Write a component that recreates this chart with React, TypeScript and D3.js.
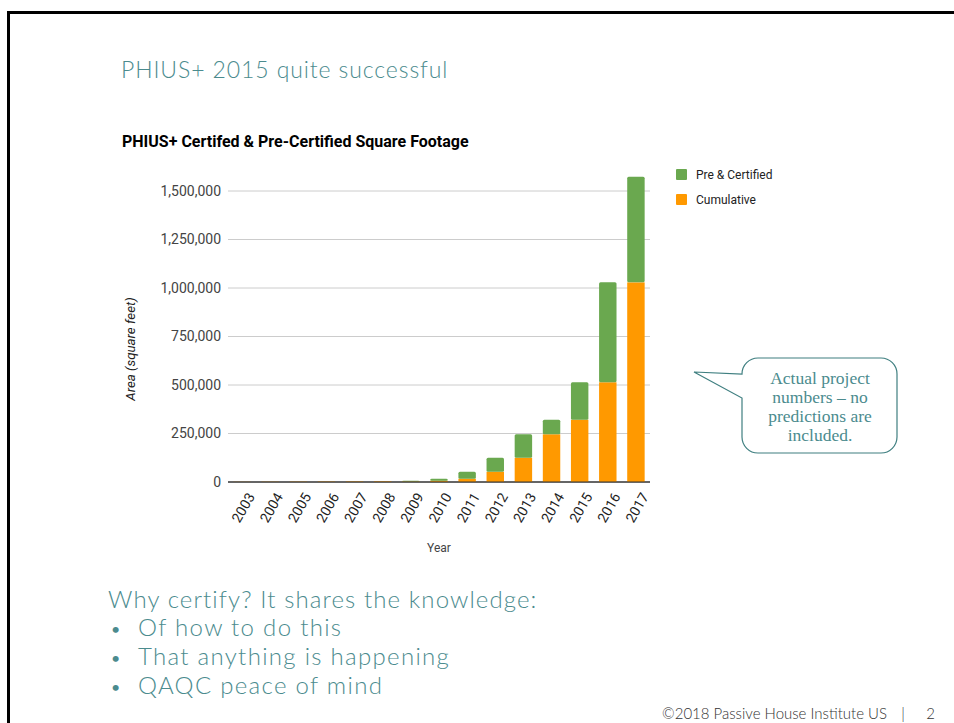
import React from 'react'
import * as d3 from 'd3'

// values (square feet)
const years = ['2003', '2004', '2005', '2006', '2007', '2008', '2009', '2010', '2011', '2012', '2013', '2014', '2015', '2016', '2017']
const cumulative = [1000, 1500, 2000, 2500, 3000, 3500, 3000, 7000, 17000, 53000, 125000, 246000, 321000, 514000, 1029000]
const preCertified = [0, 0, 0, 0, 0, 0, 4000, 10000, 36000, 72000, 121000, 75000, 193000, 515000, 545000]
const yTicks = [0, 250000, 500000, 750000, 1000000, 1250000, 1500000]
const seriesNames = ['Cumulative', 'Pre & Certified']
const legendOrder = ['Pre & Certified', 'Cumulative']
const bullets = ['Of how to do this', 'That anything is happening', 'QAQC peace of mind']
const calloutLines = ['Actual project', 'numbers \u2013 no', 'predictions are', 'included.']

const teal = '#4b8b8e'
const colors: Record<string, string> = { 'Cumulative': '#ff9900', 'Pre & Certified': '#6aa84f' }

export default function App() {
    const width = 954
    const height = 723
    const plot = { left: 228, right: 650, top: 191, bottom: 482 }

    const x = d3.scaleBand().domain(years).range([plot.left, plot.right]).paddingInner(0.38).paddingOuter(0.19)
    const y = d3.scaleLinear().domain([0, 1500000]).range([plot.bottom, plot.top])
    const fmt = d3.format(',')

    const rows = years.map((yr, i) => ({ year: yr, 'Cumulative': cumulative[i], 'Pre & Certified': preCertified[i] }))
    const stacked = d3.stack<any>().keys(seriesNames)(rows)

    // callout bubble
    const cb = { x0: 742, x1: 897, y0: 358, y1: 453, r: 16 }
    const tip = [694, 372]
    const bubble = d3.path()
    bubble.moveTo(cb.x0 + cb.r, cb.y0)
    bubble.lineTo(cb.x1 - cb.r, cb.y0)
    bubble.arcTo(cb.x1, cb.y0, cb.x1, cb.y0 + cb.r, cb.r)
    bubble.lineTo(cb.x1, cb.y1 - cb.r)
    bubble.arcTo(cb.x1, cb.y1, cb.x1 - cb.r, cb.y1, cb.r)
    bubble.lineTo(cb.x0 + cb.r, cb.y1)
    bubble.arcTo(cb.x0, cb.y1, cb.x0, cb.y1 - cb.r, cb.r)
    bubble.lineTo(cb.x0, 398)
    bubble.lineTo(tip[0], tip[1])
    bubble.lineTo(cb.x0, 374)
    bubble.lineTo(cb.x0, cb.y0 + cb.r)
    bubble.arcTo(cb.x0, cb.y0, cb.x0 + cb.r, cb.y0, cb.r)
    bubble.closePath()

    return (
        <div style={{ position: 'fixed', left: 0, top: 0 }}>
            <svg width={width} height={height} style={{ display: 'block', background: '#fff' }}>
                {/* slide frame */}
                <path d="M8.5,723 V12.5 H954" fill="none" stroke="#000" strokeWidth={3} />

                <text x={121} y={78} fill={teal} fontFamily="Lato" fontWeight={300} fontSize={23} letterSpacing={0.9}>
                    PHIUS+ 2015 quite successful
                </text>

                <text x={122} y={147} fontFamily="Roboto" fontWeight="bold" fontSize={16} fill="#000">
                    PHIUS+ Certifed &amp; Pre-Certified Square Footage
                </text>

                {/* grid + y labels */}
                {yTicks.map(t => (
                    <g key={t}>
                        <line x1={plot.left} x2={plot.right} y1={y(t)} y2={y(t)}
                            stroke={t === 0 ? '#333' : '#ccc'} strokeWidth={1} />
                        <text x={221} y={y(t)} dy="0.35em" textAnchor="end" fontFamily="Roboto" fontSize={14} fill="#444">
                            {fmt(t)}
                        </text>
                    </g>
                ))}

                {/* bars */}
                {stacked.map(s => (
                    <g key={s.key} fill={colors[s.key]}>
                        {s.map((d: any) => (
                            <rect key={d.data.year} x={x(d.data.year)} width={x.bandwidth()}
                                y={y(d[1])} height={Math.max(0, y(d[0]) - y(d[1]))}
                                rx={s.key === 'Pre & Certified' ? 1.5 : 0} />
                        ))}
                    </g>
                ))}
                <line x1={plot.left} x2={plot.right} y1={y(0)} y2={y(0)} stroke="#333" strokeWidth={1} />

                {/* x labels */}
                {years.map(yr => {
                    const cx = (x(yr) as number) + x.bandwidth() / 2
                    return (
                        <text key={yr} transform={`translate(${cx + 9},${494}) rotate(-60)`} textAnchor="end" dy="0.35em"
                            fontFamily="Roboto" fontSize={14} fill="#222">
                            {yr}
                        </text>
                    )
                })}
                <text x={(plot.left + plot.right) / 2} y={552} textAnchor="middle" fontFamily="Roboto" fontSize={12} fill="#444">
                    Year
                </text>
                <text transform={`translate(135,349) rotate(-90)`} textAnchor="middle" fontFamily="Roboto" fontStyle="italic"
                    fontSize={13.3} fill="#222">
                    Area (square feet)
                </text>

                {/* legend */}
                {legendOrder.map((k, i) => (
                    <g key={k} transform={`translate(676,${169 + i * 25})`}>
                        <rect width={11} height={11} rx={1} fill={colors[k]} />
                        <text x={20} y={5.5} dy="0.35em" fontFamily="Roboto" fontSize={12} fill="#222">{k}</text>
                    </g>
                ))}

                {/* callout */}
                <path d={bubble.toString()} fill="#fff" stroke="#3f7f80" strokeWidth={1.2} />
                {calloutLines.map((l, i) => (
                    <text key={l} x={820} y={384 + i * 19} textAnchor="middle" fontFamily="Liberation Serif"
                        fontSize={17.5} fill={teal}>
                        {l}
                    </text>
                ))}

                {/* bullet text */}
                <text x={108} y={608} fill={teal} fontFamily="Lato" fontWeight={300} fontSize={24} letterSpacing={1.1}>
                    Why certify? It shares the knowledge:
                </text>
                {bullets.map((b, i) => (
                    <g key={b}>
                        <text x={111} y={635 + i * 29} fill={teal} fontFamily="Lato" fontSize={16}>{'\u2022'}</text>
                        <text x={138} y={636 + i * 29} fill={teal} fontFamily="Lato" fontWeight={300} fontSize={24}
                            letterSpacing={1.3}>{b}</text>
                    </g>
                ))}

                <g fontFamily="Lato" fontWeight={300} fontSize={15} fill="#333">
                    <text x={887} y={719} textAnchor="end">{'\u00a92018 Passive House Institute US'}</text>
                    <text x={903} y={719} textAnchor="middle">|</text>
                    <text x={935} y={719} textAnchor="end">2</text>
                </g>
            </svg>
        </div>
    )
}
